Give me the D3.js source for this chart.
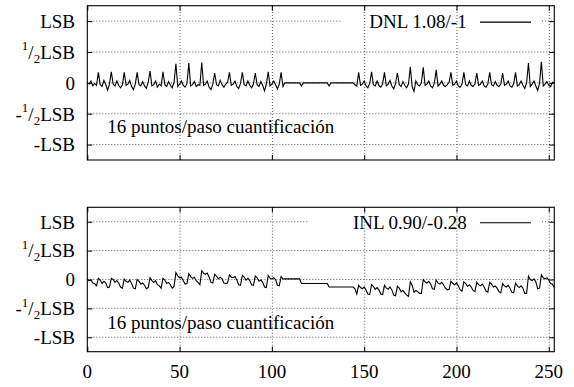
<!DOCTYPE html>
<html>
<head>
<meta charset="utf-8">
<script src="https://cdn.jsdelivr.net/npm/d3@7"></script>
<style>
  body { margin: 0; background: #fff; }
  .grid line { stroke: #333; stroke-width: 0.8; stroke-dasharray: 1,2; }
  .grid path, .ticks path { display: none; }
  .ticks line { stroke: #000; stroke-width: 1; }
</style>
</head>
<body>
<svg id="chart" width="574" height="387"></svg>
<script>
// DNL per code (in LSB)
const dnl = [
  0.00, -0.02, 0.03, -0.05, -0.01, -0.04, 0.17, -0.03, -0.06, 0.04,
  -0.03, -0.12, -0.02, 0.18, -0.02, -0.05, 0.03, -0.04, -0.08, -0.03,
  0.17, -0.04, -0.02, 0.04, -0.06, -0.11, -0.02, 0.17, -0.03, -0.05,
  0.02, -0.05, -0.09, 0.01, 0.19, -0.05, -0.03, 0.03, -0.07, -0.02,
  -0.05, 0.18, -0.03, -0.06, 0.02, -0.04, -0.08, 0.01, 0.31, -0.06,
  -0.02, 0.03, -0.04, -0.07, -0.01, 0.32, -0.05, -0.03, 0.02, -0.06,
  -0.03, -0.04, 0.33, -0.04, -0.02, 0.03, -0.07, -0.11, -0.02, 0.16,
  -0.03, -0.05, 0.04, -0.03, -0.07, -0.02, 0.01, 0.17, -0.04, -0.02,
  0.03, -0.06, -0.09, -0.01, 0.17, -0.03, -0.05, 0.03, -0.04, -0.08,
  -0.02, 0.16, -0.03, -0.06, 0.02, -0.04, -0.13, -0.02, 0.18, -0.05,
  -0.02, 0.03, -0.03, -0.10, -0.02, 0.17, -0.06, 0.00, 0.00, 0.00,
  0.00, 0.00, 0.00, 0.00, 0.00, 0.00, -0.05, 0.00, 0.00, 0.00,
  0.00, 0.00, 0.00, 0.00, 0.00, 0.00, 0.00, 0.00, 0.00, 0.00,
  0.00, -0.05, 0.00, 0.00, 0.00, 0.00, 0.00, 0.00, 0.00, 0.00,
  0.00, 0.00, 0.00, 0.00, 0.00, -0.03, -0.05, 0.17, -0.04, -0.02,
  0.03, -0.05, -0.08, -0.01, 0.18, -0.03, -0.05, 0.03, -0.04, -0.07,
  -0.02, 0.17, -0.05, -0.02, 0.04, -0.05, -0.10, -0.01, 0.16, -0.03,
  -0.06, 0.02, -0.04, -0.08, -0.02, 0.26, -0.06, -0.14, 0.03, -0.03,
  -0.05, 0.00, 0.25, -0.04, -0.02, 0.03, -0.05, -0.08, -0.01, 0.21,
  -0.05, -0.02, 0.03, -0.04, -0.06, -0.03, 0.01, 0.17, -0.04, -0.02,
  0.03, -0.05, -0.07, -0.02, 0.17, -0.03, -0.05, 0.03, -0.04, -0.06,
  -0.02, 0.16, -0.04, -0.02, 0.03, -0.05, -0.07, -0.02, 0.17, -0.03,
  -0.05, 0.02, -0.04, -0.06, -0.02, 0.16, -0.04, -0.02, 0.03, -0.05,
  -0.07, -0.01, 0.17, -0.05, -0.03, 0.03, -0.04, -0.09, 0.00, 0.32,
  -0.06, -0.02, 0.03, -0.05, -0.12, -0.01, 0.34, -0.05, -0.02, 0.02,
  -0.04, -0.06, 0.01, 0.00
]

// INL per code (in LSB)
const inl = [
  0.00, -0.02, -0.01, -0.06, -0.07, -0.11, 0.02, -0.01, -0.07, -0.03,
  -0.06, -0.14, -0.13, 0.02, 0.00, -0.05, -0.02, -0.06, -0.13, -0.15,
  0.01, -0.03, -0.05, -0.01, -0.07, -0.15, -0.16, 0.00, -0.03, -0.08,
  -0.06, -0.10, -0.16, -0.14, 0.03, -0.02, -0.05, -0.02, -0.09, -0.11,
  -0.15, 0.02, -0.01, -0.07, -0.05, -0.09, -0.15, -0.12, 0.12, 0.06,
  0.03, 0.04, -0.02, -0.08, -0.07, 0.10, 0.05, 0.02, 0.04, -0.02,
  -0.05, -0.09, 0.15, 0.11, 0.09, 0.11, 0.04, -0.05, -0.06, 0.09,
  0.06, 0.01, 0.04, 0.01, -0.06, -0.07, -0.06, 0.08, 0.04, 0.03,
  0.05, -0.01, -0.09, -0.10, 0.07, 0.04, -0.01, 0.02, -0.02, -0.09,
  -0.10, 0.06, 0.03, -0.03, -0.01, -0.05, -0.13, -0.14, 0.07, 0.02,
  0.01, 0.03, 0.00, -0.10, -0.11, 0.05, 0.01, 0.01, 0.01, 0.01,
  0.01, 0.01, 0.01, 0.01, 0.01, 0.01, -0.07, -0.07, -0.07, -0.07,
  -0.07, -0.07, -0.07, -0.07, -0.07, -0.07, -0.07, -0.07, -0.07, -0.07,
  -0.07, -0.13, -0.13, -0.13, -0.13, -0.13, -0.13, -0.13, -0.13, -0.13,
  -0.13, -0.13, -0.13, -0.13, -0.13, -0.16, -0.25, -0.10, -0.14, -0.16,
  -0.13, -0.18, -0.25, -0.26, -0.09, -0.12, -0.17, -0.14, -0.18, -0.25,
  -0.26, -0.10, -0.15, -0.17, -0.13, -0.18, -0.27, -0.28, -0.12, -0.15,
  -0.21, -0.19, -0.23, -0.27, -0.29, -0.04, -0.10, -0.22, -0.19, -0.21,
  -0.24, -0.24, 0.00, -0.04, -0.06, -0.03, -0.08, -0.16, -0.17, -0.01,
  -0.06, -0.08, -0.05, -0.09, -0.15, -0.18, -0.17, -0.03, -0.07, -0.09,
  -0.06, -0.11, -0.18, -0.20, -0.04, -0.07, -0.12, -0.09, -0.13, -0.19,
  -0.21, -0.05, -0.09, -0.11, -0.08, -0.13, -0.20, -0.22, -0.05, -0.08,
  -0.13, -0.11, -0.15, -0.21, -0.23, -0.07, -0.11, -0.13, -0.10, -0.15,
  -0.22, -0.23, -0.06, -0.11, -0.14, -0.11, -0.15, -0.24, -0.24, 0.06,
  0.00, -0.02, 0.01, -0.04, -0.16, -0.15, 0.08, 0.03, 0.01, 0.03,
  -0.01, -0.07, -0.08, -0.14
]

const xTicks = [0, 50, 100, 150, 200, 250]
const yTicks = [1, 0.5, 0, -0.5, -1]
// gnuplot style: ^ = superscript char, _ = subscript char
const yTickLabels = ["LSB", "^1/_2LSB", "0", "-^1/_2LSB", "-LSB"]
const legendLabels = ["DNL 1.08/-1", "INL 0.90/-0.28"]
const noteText = "16 puntos/paso cuantificación"

const svg = d3.select("#chart")
const left = 87.3, right = 554.3

const x = d3.scaleLinear().domain([0, 253]).range([left, right])

const panels = [
  { values: dnl, legend: legendLabels[0], top: 5.7, bottom: 160, xLabels: false, noteY: -0.82 },
  { values: inl, legend: legendLabels[1], top: 207.3, bottom: 351.7, xLabels: true, noteY: -0.86 }
]

// text element, appended straight to the svg root
function label(xPos, yPos, anchor) {
  return svg.append("text")
    .attr("x", xPos).attr("y", yPos)
    .attr("text-anchor", anchor)
    .attr("font-family", "Liberation Serif")
    .attr("font-size", 19)
}

// writes "^1/_2LSB" as tspans with raised / lowered characters
function enhancedText(sel, str) {
  let shift = 0
  for (let i = 0; i < str.length; i++) {
    const c = str[i]
    if ((c === "^" || c === "_") && i + 1 < str.length) {
      const target = c === "^" ? -8.5 : 4
      sel.append("tspan").attr("dy", target - shift).attr("font-size", 13).text(str[i + 1])
      shift = target
      i++
    } else {
      let j = i
      while (j < str.length && str[j] !== "^" && str[j] !== "_") j++
      sel.append("tspan").attr("dy", -shift).text(str.slice(i, j))
      shift = 0
      i = j - 1
    }
  }
}

panels.forEach((p, k) => {
  const y = d3.scaleLinear().domain([-1.25, 1.25]).range([p.bottom, p.top])
  const g = svg.append("g")

  // legend gap in the top horizontal grid line
  const gapRight = 542
  const gapLeft = gapRight - 79 - p.legend.length * 11.1

  // horizontal grid
  const hg = g.append("g").attr("class", "grid")
  yTicks.filter(t => t !== 1).forEach(t => {
    hg.append("line").attr("x1", left).attr("x2", right).attr("y1", y(t)).attr("y2", y(t))
  })
  hg.append("line").attr("x1", left).attr("x2", gapLeft).attr("y1", y(1)).attr("y2", y(1))
  hg.append("line").attr("x1", gapRight).attr("x2", right).attr("y1", y(1)).attr("y2", y(1))

  // vertical grid
  g.append("g").attr("class", "grid")
    .attr("transform", `translate(0,${p.bottom})`)
    .call(d3.axisBottom(x).tickValues(xTicks.filter(t => t > 0)).tickSize(-(p.bottom - p.top)).tickFormat(""))

  // inward ticks on all four sides
  g.append("g").attr("class", "ticks").attr("transform", `translate(${left},0)`)
    .call(d3.axisLeft(y).tickValues(yTicks).tickSize(-5).tickFormat(""))
  g.append("g").attr("class", "ticks").attr("transform", `translate(${right},0)`)
    .call(d3.axisRight(y).tickValues(yTicks).tickSize(-5).tickFormat(""))
  g.append("g").attr("class", "ticks").attr("transform", `translate(0,${p.bottom})`)
    .call(d3.axisBottom(x).tickValues(xTicks).tickSize(-5).tickFormat(""))
  g.append("g").attr("class", "ticks").attr("transform", `translate(0,${p.top})`)
    .call(d3.axisTop(x).tickValues(xTicks).tickSize(-5).tickFormat(""))

  // data line
  const clipId = "clip" + k
  g.append("clipPath").attr("id", clipId).append("rect")
    .attr("x", left).attr("y", p.top).attr("width", right - left).attr("height", p.bottom - p.top)
  g.append("path")
    .datum(p.values)
    .attr("clip-path", `url(#${clipId})`)
    .attr("fill", "none")
    .attr("stroke", "#000")
    .attr("stroke-width", 1.1)
    .attr("d", d3.line().x((d, i) => x(i)).y(d => y(d)))

  // legend sample
  g.append("line").attr("x1", 480).attr("x2", 531).attr("y1", y(1) + 1).attr("y2", y(1) + 1)
    .attr("stroke", "#000").attr("stroke-width", 1.1)

  // frame
  g.append("rect").attr("x", left).attr("y", p.top).attr("width", right - left).attr("height", p.bottom - p.top)
    .attr("fill", "none").attr("stroke", "#000").attr("stroke-width", 1.1)

  // texts
  yTicks.forEach((t, i) => {
    enhancedText(label(75, y(t) + 6.8, "end"), yTickLabels[i])
  })
  if (p.xLabels) {
    xTicks.forEach(t => label(x(t), p.bottom + 26.5, "middle").text(t))
  }
  label(466.7, y(1) + 7, "end").text(p.legend)
  label(107.3, y(p.noteY), "start").text(noteText)
})
</script>
</body>
</html>
